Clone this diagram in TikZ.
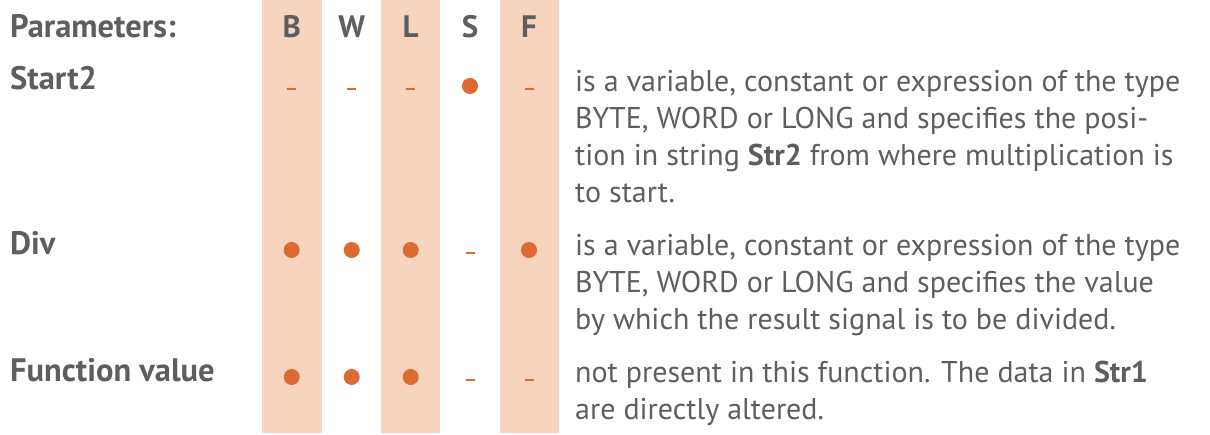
\documentclass[tikz,border=0pt]{standalone}
\usepackage{fontspec}
\setmainfont{PT Sans}
\definecolor{band}{HTML}{F7D4BE}
\definecolor{mark}{HTML}{DC6A32}
\definecolor{txt}{HTML}{5E5E5E}
\tikzset{
  x=1pt, y=-1pt,
  bandbox/.style={fill=band, draw=none},
  head/.style={anchor=base, inner sep=0pt, text=txt, font=\fontsize{31}{37}\selectfont\bfseries},
  label/.style={anchor=base west, inner sep=0pt, text=txt, font=\fontsize{32.5}{37}\selectfont\bfseries},
  desc/.style={anchor=base west, inner sep=0pt, text=txt, align=left, font=\fontsize{30}{37}\selectfont},
  yes/.style={circle, fill=mark, draw=none, minimum size=16pt, inner sep=0pt},
  no/.style={rectangle, fill=mark, draw=none, minimum width=9pt, minimum height=2.6pt, inner sep=0pt}
}
\begin{document}
\begin{tikzpicture}
\useasboundingbox (0,0) rectangle (1210,435);
% bands
\fill[bandbox] (262,0) rectangle (322,433);
\fill[bandbox] (381,0) rectangle (440,433);
\fill[bandbox] (500,0) rectangle (559,433);
% headers
\node[label] (hp) at (10,38) {Parameters:};
\node[head] (hb) at (291.7,38) {B};
\node[head] (hw) at (351.7,38) {W};
\node[head] (hl) at (410.7,38) {L};
\node[head] (hs) at (470,38) {S};
\node[head] (hf) at (529,38) {F};
% Start2 (desc anchored at baseline of its last line)
\node[label] (l1) at (10,90) {Start2};
\node[no] (b1) at (291.7,89) {};
\node[no] (w1) at (351.7,89) {};
\node[no] (ll1) at (410.7,89) {};
\node[yes] (s1) at (470,86) {};
\node[no] (f1) at (529,89) {};
\node[desc] (d1) at (575,203) {is a variable, constant or expression of the type\\BYTE, WORD or LONG and specifies the posi-\\tion in string \textbf{Str2} from where multiplication is\\to start.};
% Div
\node[label] (l2) at (10,255) {Div};
\node[yes] (b2) at (291.7,250) {};
\node[yes] (w2) at (351.7,250) {};
\node[yes] (ll2) at (410.7,250) {};
\node[no] (s2) at (470,253) {};
\node[yes] (f2) at (529,250) {};
\node[desc] (d2) at (575,330) {is a variable, constant or expression of the type\\BYTE, WORD or LONG and specifies the value\\by which the result signal is to be divided.};
% Function value
\node[label] (l3) at (10,382) {Function value};
\node[yes] (b3) at (291.7,377) {};
\node[yes] (w3) at (351.7,377) {};
\node[yes] (ll3) at (410.7,377) {};
\node[no] (s3) at (470,380) {};
\node[no] (f3) at (529,380) {};
\node[desc] (d3) at (575,420) {not present in this function. The data in \textbf{Str1}\\are directly altered.};
\end{tikzpicture}
\end{document}
